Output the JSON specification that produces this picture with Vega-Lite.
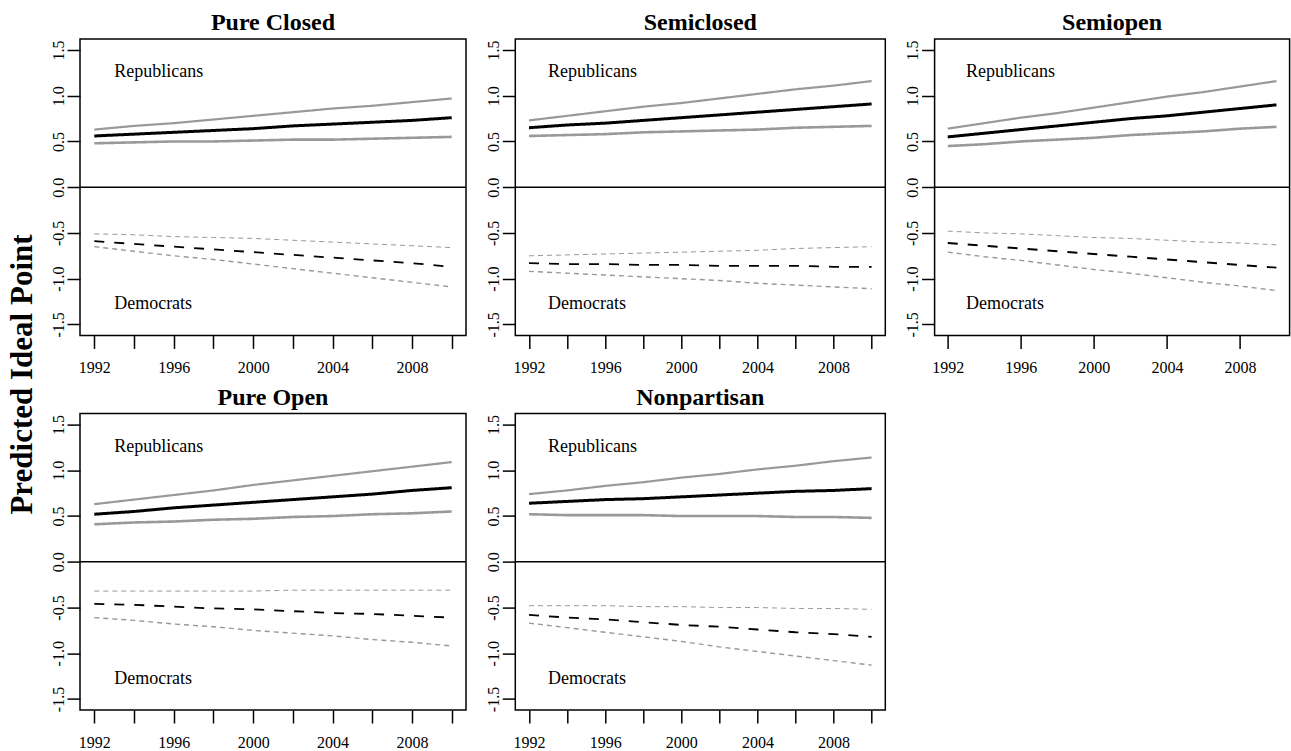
{
  "$schema": "https://vega.github.io/schema/vega-lite/v6.json",
  "background": "white",
  "padding": {"left": 5, "top": 10, "right": 0, "bottom": 0},
  "data": {"values": [
    {"panel":"Pure Closed","year":1992,"Rm":0.56,"Rl":0.48,"Rh":0.63,"Dm":-0.59,"Dl":-0.65,"Dh":-0.51},
    {"panel":"Pure Closed","year":1994,"Rm":0.58,"Rl":0.49,"Rh":0.67,"Dm":-0.62,"Dl":-0.70,"Dh":-0.52},
    {"panel":"Pure Closed","year":1996,"Rm":0.60,"Rl":0.50,"Rh":0.70,"Dm":-0.65,"Dl":-0.75,"Dh":-0.54},
    {"panel":"Pure Closed","year":1998,"Rm":0.62,"Rl":0.50,"Rh":0.74,"Dm":-0.68,"Dl":-0.79,"Dh":-0.55},
    {"panel":"Pure Closed","year":2000,"Rm":0.64,"Rl":0.51,"Rh":0.78,"Dm":-0.71,"Dl":-0.84,"Dh":-0.56},
    {"panel":"Pure Closed","year":2002,"Rm":0.67,"Rl":0.52,"Rh":0.82,"Dm":-0.74,"Dl":-0.89,"Dh":-0.58},
    {"panel":"Pure Closed","year":2004,"Rm":0.69,"Rl":0.52,"Rh":0.86,"Dm":-0.77,"Dl":-0.94,"Dh":-0.60},
    {"panel":"Pure Closed","year":2006,"Rm":0.71,"Rl":0.53,"Rh":0.89,"Dm":-0.80,"Dl":-0.99,"Dh":-0.62},
    {"panel":"Pure Closed","year":2008,"Rm":0.73,"Rl":0.54,"Rh":0.93,"Dm":-0.83,"Dl":-1.04,"Dh":-0.64},
    {"panel":"Pure Closed","year":2010,"Rm":0.76,"Rl":0.55,"Rh":0.97,"Dm":-0.87,"Dl":-1.09,"Dh":-0.66},
    {"panel":"Semiclosed","year":1992,"Rm":0.65,"Rl":0.56,"Rh":0.73,"Dm":-0.83,"Dl":-0.92,"Dh":-0.75},
    {"panel":"Semiclosed","year":1994,"Rm":0.68,"Rl":0.57,"Rh":0.78,"Dm":-0.84,"Dl":-0.94,"Dh":-0.74},
    {"panel":"Semiclosed","year":1996,"Rm":0.70,"Rl":0.58,"Rh":0.83,"Dm":-0.84,"Dl":-0.96,"Dh":-0.73},
    {"panel":"Semiclosed","year":1998,"Rm":0.73,"Rl":0.60,"Rh":0.88,"Dm":-0.85,"Dl":-0.98,"Dh":-0.72},
    {"panel":"Semiclosed","year":2000,"Rm":0.76,"Rl":0.61,"Rh":0.92,"Dm":-0.85,"Dl":-1.00,"Dh":-0.71},
    {"panel":"Semiclosed","year":2002,"Rm":0.79,"Rl":0.62,"Rh":0.97,"Dm":-0.86,"Dl":-1.02,"Dh":-0.70},
    {"panel":"Semiclosed","year":2004,"Rm":0.82,"Rl":0.63,"Rh":1.02,"Dm":-0.86,"Dl":-1.05,"Dh":-0.69},
    {"panel":"Semiclosed","year":2006,"Rm":0.85,"Rl":0.65,"Rh":1.07,"Dm":-0.86,"Dl":-1.07,"Dh":-0.67},
    {"panel":"Semiclosed","year":2008,"Rm":0.88,"Rl":0.66,"Rh":1.11,"Dm":-0.87,"Dl":-1.09,"Dh":-0.66},
    {"panel":"Semiclosed","year":2010,"Rm":0.91,"Rl":0.67,"Rh":1.16,"Dm":-0.87,"Dl":-1.11,"Dh":-0.65},
    {"panel":"Semiopen","year":1992,"Rm":0.55,"Rl":0.45,"Rh":0.64,"Dm":-0.61,"Dl":-0.71,"Dh":-0.48},
    {"panel":"Semiopen","year":1994,"Rm":0.59,"Rl":0.47,"Rh":0.70,"Dm":-0.64,"Dl":-0.76,"Dh":-0.50},
    {"panel":"Semiopen","year":1996,"Rm":0.63,"Rl":0.50,"Rh":0.76,"Dm":-0.67,"Dl":-0.80,"Dh":-0.51},
    {"panel":"Semiopen","year":1998,"Rm":0.67,"Rl":0.52,"Rh":0.81,"Dm":-0.70,"Dl":-0.85,"Dh":-0.53},
    {"panel":"Semiopen","year":2000,"Rm":0.71,"Rl":0.54,"Rh":0.87,"Dm":-0.73,"Dl":-0.90,"Dh":-0.55},
    {"panel":"Semiopen","year":2002,"Rm":0.75,"Rl":0.57,"Rh":0.93,"Dm":-0.76,"Dl":-0.94,"Dh":-0.56},
    {"panel":"Semiopen","year":2004,"Rm":0.78,"Rl":0.59,"Rh":0.99,"Dm":-0.79,"Dl":-0.99,"Dh":-0.58},
    {"panel":"Semiopen","year":2006,"Rm":0.82,"Rl":0.61,"Rh":1.04,"Dm":-0.82,"Dl":-1.04,"Dh":-0.60},
    {"panel":"Semiopen","year":2008,"Rm":0.86,"Rl":0.64,"Rh":1.10,"Dm":-0.85,"Dl":-1.08,"Dh":-0.61},
    {"panel":"Semiopen","year":2010,"Rm":0.90,"Rl":0.66,"Rh":1.16,"Dm":-0.88,"Dl":-1.13,"Dh":-0.63},
    {"panel":"Pure Open","year":1992,"Rm":0.52,"Rl":0.41,"Rh":0.63,"Dm":-0.46,"Dl":-0.61,"Dh":-0.32},
    {"panel":"Pure Open","year":1994,"Rm":0.55,"Rl":0.43,"Rh":0.68,"Dm":-0.47,"Dl":-0.64,"Dh":-0.32},
    {"panel":"Pure Open","year":1996,"Rm":0.59,"Rl":0.44,"Rh":0.73,"Dm":-0.49,"Dl":-0.68,"Dh":-0.32},
    {"panel":"Pure Open","year":1998,"Rm":0.62,"Rl":0.46,"Rh":0.78,"Dm":-0.51,"Dl":-0.71,"Dh":-0.32},
    {"panel":"Pure Open","year":2000,"Rm":0.65,"Rl":0.47,"Rh":0.84,"Dm":-0.52,"Dl":-0.75,"Dh":-0.32},
    {"panel":"Pure Open","year":2002,"Rm":0.68,"Rl":0.49,"Rh":0.89,"Dm":-0.54,"Dl":-0.78,"Dh":-0.31},
    {"panel":"Pure Open","year":2004,"Rm":0.71,"Rl":0.50,"Rh":0.94,"Dm":-0.56,"Dl":-0.81,"Dh":-0.31},
    {"panel":"Pure Open","year":2006,"Rm":0.74,"Rl":0.52,"Rh":0.99,"Dm":-0.57,"Dl":-0.85,"Dh":-0.31},
    {"panel":"Pure Open","year":2008,"Rm":0.78,"Rl":0.53,"Rh":1.04,"Dm":-0.59,"Dl":-0.88,"Dh":-0.31},
    {"panel":"Pure Open","year":2010,"Rm":0.81,"Rl":0.55,"Rh":1.09,"Dm":-0.61,"Dl":-0.92,"Dh":-0.31},
    {"panel":"Nonpartisan","year":1992,"Rm":0.64,"Rl":0.52,"Rh":0.74,"Dm":-0.58,"Dl":-0.67,"Dh":-0.48},
    {"panel":"Nonpartisan","year":1994,"Rm":0.66,"Rl":0.51,"Rh":0.78,"Dm":-0.61,"Dl":-0.72,"Dh":-0.48},
    {"panel":"Nonpartisan","year":1996,"Rm":0.68,"Rl":0.51,"Rh":0.83,"Dm":-0.63,"Dl":-0.77,"Dh":-0.48},
    {"panel":"Nonpartisan","year":1998,"Rm":0.69,"Rl":0.51,"Rh":0.87,"Dm":-0.66,"Dl":-0.82,"Dh":-0.49},
    {"panel":"Nonpartisan","year":2000,"Rm":0.71,"Rl":0.50,"Rh":0.92,"Dm":-0.69,"Dl":-0.87,"Dh":-0.49},
    {"panel":"Nonpartisan","year":2002,"Rm":0.73,"Rl":0.50,"Rh":0.96,"Dm":-0.71,"Dl":-0.93,"Dh":-0.50},
    {"panel":"Nonpartisan","year":2004,"Rm":0.75,"Rl":0.50,"Rh":1.01,"Dm":-0.74,"Dl":-0.98,"Dh":-0.50},
    {"panel":"Nonpartisan","year":2006,"Rm":0.77,"Rl":0.49,"Rh":1.05,"Dm":-0.77,"Dl":-1.03,"Dh":-0.51},
    {"panel":"Nonpartisan","year":2008,"Rm":0.78,"Rl":0.49,"Rh":1.10,"Dm":-0.79,"Dl":-1.08,"Dh":-0.51},
    {"panel":"Nonpartisan","year":2010,"Rm":0.80,"Rl":0.48,"Rh":1.14,"Dm":-0.82,"Dl":-1.13,"Dh":-0.52}
  ]},
  "columns": 3,
  "spacing": {"row": 77.6, "column": 49.3},
  "bounds": "flush",
  "align": "each",
  "concat": [
    {
      "width": 386, "height": 296.4, "title": "Pure Closed",
      "layer": [
        {"transform": [{"filter": "datum.panel == 'Pure Closed'"}, {"fold": ["Rl","Rh","Dl","Dh","Rm","Dm"], "as": ["series","value"]}],
         "mark": {"type": "line", "strokeCap": "butt"},
         "encoding": {
           "x": {"field": "year", "type": "quantitative", "scale": {"domain": [1991.28, 2010.72], "nice": false, "zero": false}, "axis": {"values": [1992,1994,1996,1998,2000,2002,2004,2006,2008,2010], "format": "d", "labelExpr": "datum.value % 4 == 0 ? datum.label : ''", "title": null, "labelPadding": 11}},
           "y": {"field": "value", "type": "quantitative", "scale": {"domain": [-1.62, 1.62], "nice": false, "zero": false}, "axis": {"values": [-1.5,-1,-0.5,0,0.5,1,1.5], "format": ".1f", "labelExpr": "replace(datum.label, '\u2212', '-')", "labelAngle": 270, "labelAlign": "center", "labelBaseline": "alphabetic", "labelPadding": 4, "title": "Predicted Ideal Point", "titleY": 335, "titleFont": "Liberation Serif", "titleFontSize": 31, "titleFontWeight": "bold", "titleColor": "black", "titlePadding": 12}},
           "color": {"field": "series", "type": "nominal", "scale": {"domain": ["Rm","Rl","Rh","Dm","Dl","Dh"], "range": ["#000000","#999999","#999999","#000000","#999999","#999999"]}, "legend": null},
           "strokeWidth": {"field": "series", "type": "ordinal", "scale": {"domain": ["Rm","Rl","Rh","Dm","Dl","Dh"], "range": [3,1,1,3,1,1]}, "legend": null},
           "strokeDash": {"field": "series", "type": "nominal", "scale": {"domain": ["Rm","Rl","Rh","Dm","Dl","Dh"], "range": [[1,0],[1,0],[1,0],[10,10],[5,4],[5,4]]}, "legend": null}
         }},
        {"data": {"values": [{}]}, "mark": {"type": "rule", "color": "black", "strokeWidth": 1.5}, "encoding": {"y": {"datum": 0}}},
        {"data": {"values": [{}]}, "mark": {"type": "text", "align": "left", "baseline": "middle", "font": "Liberation Serif", "fontSize": 18, "color": "black"}, "encoding": {"x": {"datum": 1993}, "y": {"datum": 1.26}, "text": {"value": "Republicans"}}},
        {"data": {"values": [{}]}, "mark": {"type": "text", "align": "left", "baseline": "middle", "font": "Liberation Serif", "fontSize": 18, "color": "black"}, "encoding": {"x": {"datum": 1993}, "y": {"datum": -1.28}, "text": {"value": "Democrats"}}}
      ]
    },
    {
      "width": 370, "height": 296.4, "title": "Semiclosed",
      "layer": [
        {"transform": [{"filter": "datum.panel == 'Semiclosed'"}, {"fold": ["Rl","Rh","Dl","Dh","Rm","Dm"], "as": ["series","value"]}],
         "mark": {"type": "line", "strokeCap": "butt"},
         "encoding": {
           "x": {"field": "year", "type": "quantitative", "scale": {"domain": [1991.28, 2010.72], "nice": false, "zero": false}, "axis": {"values": [1992,1994,1996,1998,2000,2002,2004,2006,2008,2010], "format": "d", "labelExpr": "datum.value % 4 == 0 ? datum.label : ''", "title": null, "labelPadding": 11}},
           "y": {"field": "value", "type": "quantitative", "scale": {"domain": [-1.62, 1.62], "nice": false, "zero": false}, "axis": {"values": [-1.5,-1,-0.5,0,0.5,1,1.5], "format": ".1f", "labelExpr": "replace(datum.label, '\u2212', '-')", "labelAngle": 270, "labelAlign": "center", "labelBaseline": "alphabetic", "labelPadding": 4, "title": null}},
           "color": {"field": "series", "type": "nominal", "scale": {"domain": ["Rm","Rl","Rh","Dm","Dl","Dh"], "range": ["#000000","#999999","#999999","#000000","#999999","#999999"]}, "legend": null},
           "strokeWidth": {"field": "series", "type": "ordinal", "scale": {"domain": ["Rm","Rl","Rh","Dm","Dl","Dh"], "range": [3,1,1,3,1,1]}, "legend": null},
           "strokeDash": {"field": "series", "type": "nominal", "scale": {"domain": ["Rm","Rl","Rh","Dm","Dl","Dh"], "range": [[1,0],[1,0],[1,0],[10,10],[5,4],[5,4]]}, "legend": null}
         }},
        {"data": {"values": [{}]}, "mark": {"type": "rule", "color": "black", "strokeWidth": 1.5}, "encoding": {"y": {"datum": 0}}},
        {"data": {"values": [{}]}, "mark": {"type": "text", "align": "left", "baseline": "middle", "font": "Liberation Serif", "fontSize": 18, "color": "black"}, "encoding": {"x": {"datum": 1993}, "y": {"datum": 1.26}, "text": {"value": "Republicans"}}},
        {"data": {"values": [{}]}, "mark": {"type": "text", "align": "left", "baseline": "middle", "font": "Liberation Serif", "fontSize": 18, "color": "black"}, "encoding": {"x": {"datum": 1993}, "y": {"datum": -1.28}, "text": {"value": "Democrats"}}}
      ]
    },
    {
      "width": 355, "height": 296.4, "title": "Semiopen",
      "layer": [
        {"transform": [{"filter": "datum.panel == 'Semiopen'"}, {"fold": ["Rl","Rh","Dl","Dh","Rm","Dm"], "as": ["series","value"]}],
         "mark": {"type": "line", "strokeCap": "butt"},
         "encoding": {
           "x": {"field": "year", "type": "quantitative", "scale": {"domain": [1991.28, 2010.72], "nice": false, "zero": false}, "axis": {"values": [1992,1994,1996,1998,2000,2002,2004,2006,2008,2010], "format": "d", "labelExpr": "datum.value % 4 == 0 ? datum.label : ''", "title": null, "labelPadding": 11}},
           "y": {"field": "value", "type": "quantitative", "scale": {"domain": [-1.62, 1.62], "nice": false, "zero": false}, "axis": {"values": [-1.5,-1,-0.5,0,0.5,1,1.5], "format": ".1f", "labelExpr": "replace(datum.label, '\u2212', '-')", "labelAngle": 270, "labelAlign": "center", "labelBaseline": "alphabetic", "labelPadding": 4, "title": null}},
           "color": {"field": "series", "type": "nominal", "scale": {"domain": ["Rm","Rl","Rh","Dm","Dl","Dh"], "range": ["#000000","#999999","#999999","#000000","#999999","#999999"]}, "legend": null},
           "strokeWidth": {"field": "series", "type": "ordinal", "scale": {"domain": ["Rm","Rl","Rh","Dm","Dl","Dh"], "range": [3,1,1,3,1,1]}, "legend": null},
           "strokeDash": {"field": "series", "type": "nominal", "scale": {"domain": ["Rm","Rl","Rh","Dm","Dl","Dh"], "range": [[1,0],[1,0],[1,0],[10,10],[5,4],[5,4]]}, "legend": null}
         }},
        {"data": {"values": [{}]}, "mark": {"type": "rule", "color": "black", "strokeWidth": 1.5}, "encoding": {"y": {"datum": 0}}},
        {"data": {"values": [{}]}, "mark": {"type": "text", "align": "left", "baseline": "middle", "font": "Liberation Serif", "fontSize": 18, "color": "black"}, "encoding": {"x": {"datum": 1993}, "y": {"datum": 1.26}, "text": {"value": "Republicans"}}},
        {"data": {"values": [{}]}, "mark": {"type": "text", "align": "left", "baseline": "middle", "font": "Liberation Serif", "fontSize": 18, "color": "black"}, "encoding": {"x": {"datum": 1993}, "y": {"datum": -1.28}, "text": {"value": "Democrats"}}}
      ]
    },
    {
      "width": 386, "height": 296.4, "title": "Pure Open",
      "layer": [
        {"transform": [{"filter": "datum.panel == 'Pure Open'"}, {"fold": ["Rl","Rh","Dl","Dh","Rm","Dm"], "as": ["series","value"]}],
         "mark": {"type": "line", "strokeCap": "butt"},
         "encoding": {
           "x": {"field": "year", "type": "quantitative", "scale": {"domain": [1991.28, 2010.72], "nice": false, "zero": false}, "axis": {"values": [1992,1994,1996,1998,2000,2002,2004,2006,2008,2010], "format": "d", "labelExpr": "datum.value % 4 == 0 ? datum.label : ''", "title": null, "labelPadding": 11}},
           "y": {"field": "value", "type": "quantitative", "scale": {"domain": [-1.62, 1.62], "nice": false, "zero": false}, "axis": {"values": [-1.5,-1,-0.5,0,0.5,1,1.5], "format": ".1f", "labelExpr": "replace(datum.label, '\u2212', '-')", "labelAngle": 270, "labelAlign": "center", "labelBaseline": "alphabetic", "labelPadding": 4, "title": null}},
           "color": {"field": "series", "type": "nominal", "scale": {"domain": ["Rm","Rl","Rh","Dm","Dl","Dh"], "range": ["#000000","#999999","#999999","#000000","#999999","#999999"]}, "legend": null},
           "strokeWidth": {"field": "series", "type": "ordinal", "scale": {"domain": ["Rm","Rl","Rh","Dm","Dl","Dh"], "range": [3,1,1,3,1,1]}, "legend": null},
           "strokeDash": {"field": "series", "type": "nominal", "scale": {"domain": ["Rm","Rl","Rh","Dm","Dl","Dh"], "range": [[1,0],[1,0],[1,0],[10,10],[5,4],[5,4]]}, "legend": null}
         }},
        {"data": {"values": [{}]}, "mark": {"type": "rule", "color": "black", "strokeWidth": 1.5}, "encoding": {"y": {"datum": 0}}},
        {"data": {"values": [{}]}, "mark": {"type": "text", "align": "left", "baseline": "middle", "font": "Liberation Serif", "fontSize": 18, "color": "black"}, "encoding": {"x": {"datum": 1993}, "y": {"datum": 1.26}, "text": {"value": "Republicans"}}},
        {"data": {"values": [{}]}, "mark": {"type": "text", "align": "left", "baseline": "middle", "font": "Liberation Serif", "fontSize": 18, "color": "black"}, "encoding": {"x": {"datum": 1993}, "y": {"datum": -1.28}, "text": {"value": "Democrats"}}}
      ]
    },
    {
      "width": 370, "height": 296.4, "title": "Nonpartisan",
      "layer": [
        {"transform": [{"filter": "datum.panel == 'Nonpartisan'"}, {"fold": ["Rl","Rh","Dl","Dh","Rm","Dm"], "as": ["series","value"]}],
         "mark": {"type": "line", "strokeCap": "butt"},
         "encoding": {
           "x": {"field": "year", "type": "quantitative", "scale": {"domain": [1991.28, 2010.72], "nice": false, "zero": false}, "axis": {"values": [1992,1994,1996,1998,2000,2002,2004,2006,2008,2010], "format": "d", "labelExpr": "datum.value % 4 == 0 ? datum.label : ''", "title": null, "labelPadding": 11}},
           "y": {"field": "value", "type": "quantitative", "scale": {"domain": [-1.62, 1.62], "nice": false, "zero": false}, "axis": {"values": [-1.5,-1,-0.5,0,0.5,1,1.5], "format": ".1f", "labelExpr": "replace(datum.label, '\u2212', '-')", "labelAngle": 270, "labelAlign": "center", "labelBaseline": "alphabetic", "labelPadding": 4, "title": null}},
           "color": {"field": "series", "type": "nominal", "scale": {"domain": ["Rm","Rl","Rh","Dm","Dl","Dh"], "range": ["#000000","#999999","#999999","#000000","#999999","#999999"]}, "legend": null},
           "strokeWidth": {"field": "series", "type": "ordinal", "scale": {"domain": ["Rm","Rl","Rh","Dm","Dl","Dh"], "range": [3,1,1,3,1,1]}, "legend": null},
           "strokeDash": {"field": "series", "type": "nominal", "scale": {"domain": ["Rm","Rl","Rh","Dm","Dl","Dh"], "range": [[1,0],[1,0],[1,0],[10,10],[5,4],[5,4]]}, "legend": null}
         }},
        {"data": {"values": [{}]}, "mark": {"type": "rule", "color": "black", "strokeWidth": 1.5}, "encoding": {"y": {"datum": 0}}},
        {"data": {"values": [{}]}, "mark": {"type": "text", "align": "left", "baseline": "middle", "font": "Liberation Serif", "fontSize": 18, "color": "black"}, "encoding": {"x": {"datum": 1993}, "y": {"datum": 1.26}, "text": {"value": "Republicans"}}},
        {"data": {"values": [{}]}, "mark": {"type": "text", "align": "left", "baseline": "middle", "font": "Liberation Serif", "fontSize": 18, "color": "black"}, "encoding": {"x": {"datum": 1993}, "y": {"datum": -1.28}, "text": {"value": "Democrats"}}}
      ]
    }
  ],
  "config": {
    "view": {"stroke": "black", "strokeWidth": 1.5},
    "font": "Liberation Serif",
    "title": {"font": "Liberation Serif", "fontSize": 24, "fontWeight": "bold", "color": "black", "offset": 4, "anchor": "middle"},
    "axis": {"domain": false, "grid": false, "tickColor": "black", "tickWidth": 1.5, "tickSize": 13, "labelFont": "Liberation Serif", "labelFontSize": 16, "labelColor": "black", "labelOverlap": false, "labelFlush": false}
  }
}
